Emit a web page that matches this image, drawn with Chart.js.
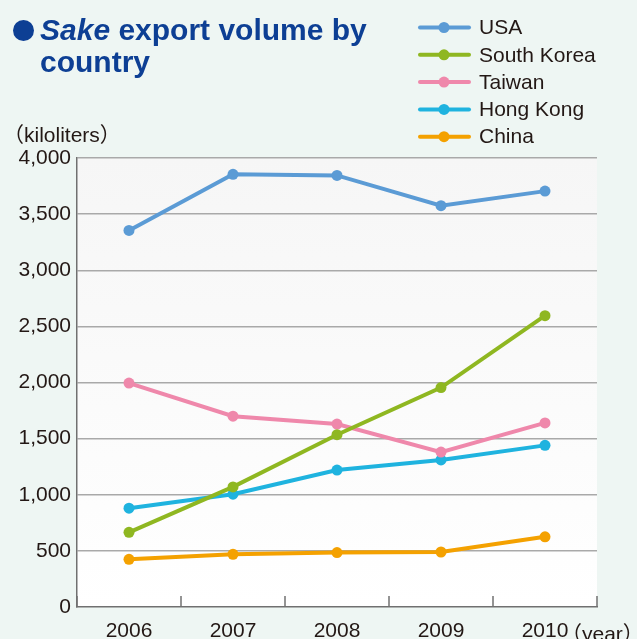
<!DOCTYPE html>
<html>
<head>
<meta charset="utf-8">
<script src="https://cdn.jsdelivr.net/npm/chart.js@4.4.1/dist/chart.umd.min.js"></script>
<style>
  html, body { margin: 0; padding: 0; background: #eef6f3; }
  #wrap { position: relative; width: 637px; height: 639px; overflow: hidden; }
  #chart { position: absolute; left: 0; top: 0; }
  .dot { position: absolute; left: 13px; top: 20px; width: 21px; height: 21px; border-radius: 50%; background: #0d3f94; }
  .title { position: absolute; left: 40px; top: 14px; font: bold 30px "Liberation Sans", Arial, sans-serif; line-height: 31.5px; color: #0d3f94; white-space: nowrap; }
  .unit { position: absolute; font: 21px "Liberation Sans", "Noto Sans CJK JP", sans-serif; color: #231815; white-space: nowrap; }
</style>
</head>
<body>
<div id="wrap">
  <canvas id="chart" width="637" height="639"></canvas>
  <div class="dot"></div>
  <div class="title"><i>Sake</i> export volume by<br>country</div>
  <div class="unit" style="left:3px; top:118px;">（kiloliters）</div>
  <div class="unit" style="left:561px; top:617px;">（year）</div>
</div>
<script>
  const years = ['2006', '2007', '2008', '2009', '2010'];
  const usa = [3355, 3855, 3845, 3575, 3705];
  const southKorea = [665, 1070, 1535, 1955, 2595];
  const taiwan = [1995, 1700, 1630, 1380, 1640];
  const hongKong = [880, 1005, 1220, 1310, 1440];
  const china = [425, 470, 485, 490, 625];
  const yTicks = [0, 500, 1000, 1500, 2000, 2500, 3000, 3500, 4000];

  const countries = ['USA', 'South Korea', 'Taiwan', 'Hong Kong', 'China'];
  const colors = ['#5b9bd5', '#8fb721', '#ef88ab', '#1fb3df', '#f4a100'];
  const series = [usa, southKorea, taiwan, hongKong, china];

  const FONT = '"Liberation Sans", Arial, sans-serif';
  const TEXT = '#231815';

  // light gray to white fill behind the plot
  const plotBackground = {
    id: 'plotBackground',
    beforeDraw(chart) {
      const { ctx, chartArea: a } = chart;
      const g = ctx.createLinearGradient(0, a.top, 0, a.bottom);
      g.addColorStop(0, '#f6f6f6');
      g.addColorStop(1, '#ffffff');
      ctx.save();
      ctx.fillStyle = g;
      ctx.fillRect(a.left, a.top, a.right - a.left, a.bottom - a.top);
      ctx.restore();
    }
  };

  // short tick marks between the years, pointing up into the plot
  const yearTicks = {
    id: 'yearTicks',
    afterDraw(chart) {
      const { ctx, chartArea: a, scales: { x } } = chart;
      const step = x.getPixelForValue(1) - x.getPixelForValue(0);
      ctx.save();
      ctx.strokeStyle = '#707070';
      ctx.lineWidth = 1.5;
      for (let i = 0; i <= years.length; i++) {
        const px = Math.round(x.getPixelForValue(i) - step / 2);
        ctx.beginPath();
        ctx.moveTo(px, a.bottom);
        ctx.lineTo(px, a.bottom - 11);
        ctx.stroke();
      }
      ctx.restore();
    }
  };

  // legend block in the upper right: line, dot, name
  const sideLegend = {
    id: 'sideLegend',
    afterDraw(chart) {
      const ctx = chart.ctx;
      ctx.save();
      chart.data.datasets.forEach((ds, i) => {
        const y = 27.5 + i * 27.3;
        ctx.strokeStyle = ds.borderColor;
        ctx.lineWidth = 4;
        ctx.lineCap = 'round';
        ctx.beginPath();
        ctx.moveTo(420, y);
        ctx.lineTo(469, y);
        ctx.stroke();
        ctx.fillStyle = ds.borderColor;
        ctx.beginPath();
        ctx.arc(444, y, 5.5, 0, Math.PI * 2);
        ctx.fill();
        ctx.fillStyle = TEXT;
        ctx.font = '21px ' + FONT;
        ctx.textBaseline = 'middle';
        ctx.fillText(ds.label, 479, y + 1);
      });
      ctx.restore();
    }
  };

  new Chart(document.getElementById('chart'), {
    type: 'line',
    data: {
      labels: years,
      datasets: countries.map((name, i) => ({
        label: name,
        data: series[i],
        borderColor: colors[i],
        backgroundColor: colors[i],
        borderWidth: 4,
        pointRadius: 5.5,
        pointBorderWidth: 0,
        pointBackgroundColor: colors[i],
        tension: 0,
        fill: false
      }))
    },
    options: {
      responsive: false,
      animation: false,
      layout: { padding: { top: 158, right: 40, left: 0, bottom: 0 } },
      plugins: {
        legend: { display: false },
        tooltip: { enabled: false }
      },
      scales: {
        x: {
          offset: true,
          grid: { display: false, drawTicks: false },
          border: { color: '#707070', width: 1.5 },
          ticks: { color: TEXT, font: { family: FONT, size: 21 }, padding: 12, maxRotation: 0 },
          afterFit(s) { s.height = 32; }
        },
        y: {
          min: 0,
          max: 4000,
          afterBuildTicks(s) { s.ticks = yTicks.map(v => ({ value: v })); },
          grid: {
            drawTicks: false,
            lineWidth: 1.5,
            color: c => (c.tick && c.tick.value === 0) ? 'rgba(0,0,0,0)' : '#a9a9a9'
          },
          border: { color: '#707070', width: 1.5 },
          ticks: {
            color: TEXT,
            font: { family: FONT, size: 21 },
            padding: 6,
            callback: v => v.toLocaleString('en-US')
          },
          afterFit(s) { s.width = 77; }
        }
      }
    },
    plugins: [plotBackground, yearTicks, sideLegend]
  });
</script>
</body>
</html>
